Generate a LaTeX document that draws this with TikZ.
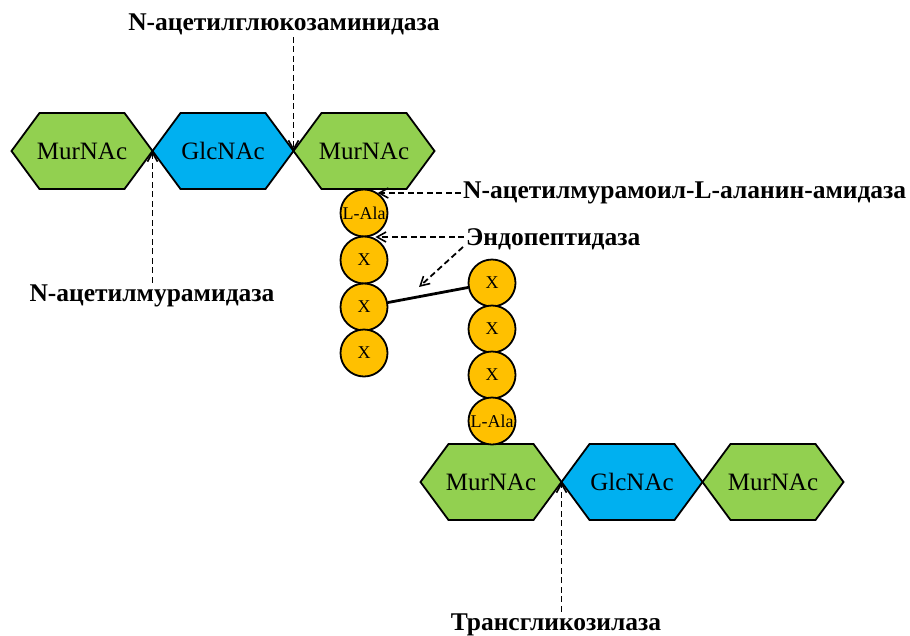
\documentclass[tikz,border=0pt]{standalone}
\usepackage{fontspec}
\setmainfont{Liberation Serif}
\usetikzlibrary{arrows.meta,backgrounds,calc}
\definecolor{hgreen}{HTML}{92D050}
\definecolor{hblue}{HTML}{00B0F0}
\definecolor{aorange}{HTML}{FFC000}
\newcommand\hexpath[2]{\draw[hexline,fill=#2] (#1.west) -- ([xshift=28pt]#1.north west) -- ([xshift=-28pt]#1.north east) -- (#1.east) -- ([xshift=-28pt]#1.south east) -- ([xshift=28pt]#1.south west) -- cycle;}
\begin{document}
\begin{tikzpicture}[x=1pt,y=-1pt,
  hexbox/.style={minimum width=141pt,minimum height=76pt,inner sep=0pt,outer sep=0pt,font=\fontsize{25}{29}\selectfont},
  hexline/.style={draw=black,line width=1.8pt},
  acid/.style={circle,draw=black,line width=1.8pt,fill=aorange,minimum size=47pt,inner sep=0pt,font=\fontsize{18}{21}\selectfont},
  enzyme/.style={font=\bfseries\fontsize{25.5}{29}\selectfont,inner sep=2pt},
  cutarrow/.style={dash pattern=on 6pt off 3.5pt,line width=1.8pt,-{Straight Barb[length=9pt,width=10pt,line width=1.6pt]}},
  link/.style={line width=2.8pt}]
\useasboundingbox (0,0) rectangle (910,635);
% top chain
\node[hexbox] (m1) at (82,151) {MurNAc};
\node[hexbox] (g1) at (223,151) {GlcNAc};
\node[hexbox] (m2) at (364,151) {MurNAc};
% bottom chain
\node[hexbox] (m3) at (491,482) {MurNAc};
\node[hexbox] (g2) at (632,482) {GlcNAc};
\node[hexbox] (m4) at (773,482) {MurNAc};
\begin{scope}[on background layer]
\hexpath{m1}{hgreen}
\hexpath{g1}{hblue}
\hexpath{m2}{hgreen}
\hexpath{m3}{hgreen}
\hexpath{g2}{hblue}
\hexpath{m4}{hgreen}
\end{scope}
% left peptide
\node[acid] (la1) at (364,213) {L-Ala};
\node[acid] (xa1) at (364,260) {X};
\node[acid] (xa2) at (364,307) {X};
\node[acid] (xa3) at (364,353) {X};
% right peptide
\node[acid] (xb1) at (492,283) {X};
\node[acid] (xb2) at (492,329) {X};
\node[acid] (xb3) at (492,375) {X};
\node[acid] (la2) at (492,421) {L-Ala};
\draw[link] (xa2) -- (xb1);
% enzymes
\node[enzyme] (ng) at (284,24) {N-ацетилглюкозаминидаза};
\node[enzyme] (nm) at (152,296) {N-ацетилмурамидаза};
\node[enzyme,anchor=west] (na) at (461,193) {N-ацетилмурамоил-L-аланин-амидаза};
\node[enzyme,anchor=west] (ep) at (464,239) {Эндопептидаза};
\node[enzyme] (tg) at (556,625) {Трансгликозилаза};
\coordinate (hit) at (419,287);
\draw[cutarrow] (ng.south -| m2.west) -- (m2.west);
\draw[cutarrow] (nm.north -| g1.west) -- (g1.west);
\draw[cutarrow] (na.west) -- (na.west -| la1.56);
\draw[cutarrow] ([yshift=2pt]ep.west) -- ([yshift=2pt]ep.west -| xa1.62);
\draw[cutarrow] ([shift={(-1,8)}]ep.west) -- (hit);
\draw[cutarrow] (tg.north -| m3.east) -- (m3.east);
\end{tikzpicture}
\end{document}
